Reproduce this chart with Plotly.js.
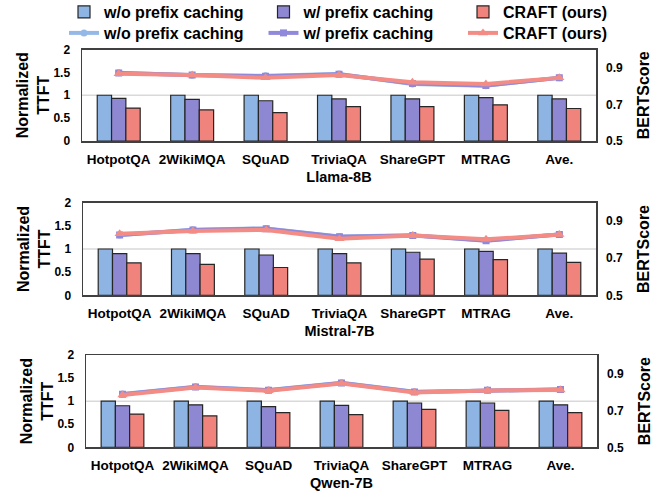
<!DOCTYPE html>
<html><head><meta charset="utf-8">
<script src="https://cdn.plot.ly/plotly-3.0.1.min.js"></script>
<style>html,body{margin:0;padding:0;background:#fff}#chart{width:662px;height:494px}</style>
</head><body><div id="chart"></div>
<script>
const categories = ["HotpotQA","2WikiMQA","SQuAD","TriviaQA","ShareGPT","MTRAG","Ave."];
const models = ["Llama-8B","Mistral-7B","Qwen-7B"];
const seriesNames = ["w/o prefix caching","w/ prefix caching","CRAFT (ours)"];

// Normalized TTFT (bars)
const llamaTtftWo    = [1.00,1.00,1.00,1.00,1.00,1.00,1.00];
const llamaTtftW     = [0.93,0.91,0.88,0.92,0.92,0.95,0.92];
const llamaTtftCraft = [0.72,0.68,0.62,0.75,0.75,0.79,0.71];
const mistralTtftWo    = [1.00,1.00,1.00,1.00,1.00,1.00,1.00];
const mistralTtftW     = [0.90,0.90,0.87,0.90,0.93,0.95,0.91];
const mistralTtftCraft = [0.70,0.67,0.60,0.70,0.78,0.77,0.71];
const qwenTtftWo    = [1.00,1.00,1.00,1.00,1.00,1.00,1.00];
const qwenTtftW     = [0.90,0.92,0.88,0.91,0.96,0.96,0.92];
const qwenTtftCraft = [0.72,0.68,0.75,0.71,0.82,0.80,0.75];

// BERTScore (lines)
const llamaBertWo    = [0.873,0.859,0.856,0.866,0.812,0.802,0.846];
const llamaBertW     = [0.872,0.860,0.854,0.865,0.814,0.803,0.845];
const llamaBertCraft = [0.867,0.861,0.845,0.860,0.821,0.812,0.845];
const mistralBertWo    = [0.826,0.854,0.861,0.818,0.824,0.796,0.829];
const mistralBertW     = [0.825,0.853,0.860,0.816,0.823,0.795,0.828];
const mistralBertCraft = [0.832,0.847,0.853,0.805,0.823,0.802,0.828];
const qwenBertWo    = [0.789,0.828,0.810,0.849,0.801,0.810,0.814];
const qwenBertW     = [0.788,0.827,0.809,0.848,0.800,0.809,0.813];
const qwenBertCraft = [0.783,0.824,0.806,0.845,0.797,0.808,0.811];

const leftTicks = [0,0.5,1,1.5,2];
const leftTickText = ["0","0.5","1","1.5","2"];
const rightTicks = [0.5,0.7,0.9];
const rightTickText = ["0.5","0.7","0.9"];

const ttft = [[llamaTtftWo,llamaTtftW,llamaTtftCraft],[mistralTtftWo,mistralTtftW,mistralTtftCraft],[qwenTtftWo,qwenTtftW,qwenTtftCraft]];
const bert = [[llamaBertWo,llamaBertW,llamaBertCraft],[mistralBertWo,mistralBertW,mistralBertCraft],[qwenBertWo,qwenBertW,qwenBertCraft]];

const FONT = "Liberation Sans, Arial, sans-serif";
const barColors = ["#8DB4E2","#8E87D1","#F0837C"];
const lineColors = ["#95B9E6","#9088DA","#F48C86"];
const symbols = ["circle","square","triangle-up"];
const symSizes = [7,7,9];

const xDomains = [[82/662,596/662],[83/662,596/662],[86/662,597/662]];
const yDomains = [[1-141/494,1-49.5/494],[1-295.3/494,1-202.7/494],[1-447.3/494,1-355/494]];

const traces = [];
const layout = {
  width:662, height:494,
  margin:{l:0,r:0,t:0,b:0,autoexpand:false},
  paper_bgcolor:"#fff", plot_bgcolor:"rgba(0,0,0,0)",
  barmode:"group", bargap:0.415, bargroupgap:0,
  showlegend:true,
  font:{family:FONT, color:"#000", weight:"bold"},
  legend:{orientation:"h", x:64/662, y:1-12/494, xanchor:"left", yanchor:"middle",
    font:{family:FONT,size:16,weight:"bold",color:"#000"}, entrywidth:154.5, itemwidth:30, tracegroupgap:0, bgcolor:"rgba(0,0,0,0)"},
  legend2:{orientation:"h", x:64/662, y:1-33/494, xanchor:"left", yanchor:"middle",
    font:{family:FONT,size:16,weight:"bold",color:"#000"}, entrywidth:154.5, itemwidth:30, tracegroupgap:0, bgcolor:"rgba(0,0,0,0)"},
  shapes:[]
};

for (let m = 0; m < 3; m++) {
  const sx = m === 0 ? "" : String(m+1);
  const xa = "x"+sx, ya = "y"+sx, yr = "y"+String(m+4);
  for (let s = 0; s < 3; s++) {
    traces.push({type:"bar", x:categories, y:ttft[m][s], name:seriesNames[s], xaxis:xa, yaxis:ya,
      marker:{color:barColors[s], line:{color:"#262626", width:1.2}},
      showlegend:m===0, legend:"legend", hoverinfo:"skip"});
  }
  for (let s = 0; s < 3; s++) {
    traces.push({type:"scatter", mode:"lines+markers", x:categories, y:bert[m][s], name:seriesNames[s], xaxis:xa, yaxis:yr,
      line:{color:lineColors[s], width:4}, marker:{symbol:symbols[s], size:symSizes[s], color:lineColors[s]},
      showlegend:m===0, legend:"legend2", hoverinfo:"skip"});
  }
  layout["xaxis"+sx] = {domain:xDomains[m], anchor:ya, type:"category", showline:true, mirror:true, linecolor:"#404040", linewidth:1.5,
    showgrid:false, ticks:"", ticklabelstandoff:5, tickfont:{family:FONT,size:13.5,weight:"bold",color:"#000"},
    title:{text:models[m], font:{family:FONT,size:14.5,weight:"bold",color:"#000"}, standoff:6}};
  layout["yaxis"+sx] = {domain:yDomains[m], anchor:xa, range:[0,2], tickvals:leftTicks, ticktext:leftTickText, showgrid:false,
    zeroline:false, showline:true, mirror:true, linecolor:"#404040", linewidth:1.5, ticks:"", ticklabelstandoff:8,
    tickfont:{family:FONT,size:12,weight:"bold",color:"#000"},
    title:{text:"Normalized<br>TTFT", font:{family:FONT,size:16,weight:"bold",color:"#000"}, standoff:0}};
  layout["yaxis"+String(m+4)] = {overlaying:ya, side:"right", anchor:xa, range:[0.5,1.0], tickvals:rightTicks, ticktext:rightTickText,
    showgrid:false, zeroline:false, showline:false, ticks:"", ticklabelstandoff:9,
    tickfont:{family:FONT,size:12,weight:"bold",color:"#000"},
    title:{text:"BERTScore", font:{family:FONT,size:16,weight:"bold",color:"#000"}, standoff:15}};
  layout.shapes.push({type:"line", xref:xa+" domain", x0:0, x1:1, yref:ya, y0:1, y1:1, line:{color:"#D9D9D9", width:1.5}, layer:"below"});
}

Plotly.newPlot("chart", traces, layout, {staticPlot:true, displayModeBar:false});
</script></body></html>
